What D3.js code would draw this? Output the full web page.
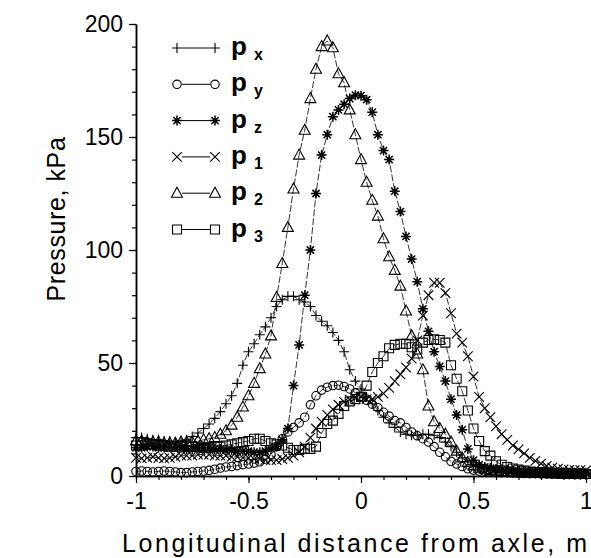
<!DOCTYPE html>
<html>
<head>
<meta charset="utf-8">
<script src="https://cdn.jsdelivr.net/npm/d3@7"></script>
<style>
  body { margin: 0; background: #fff; }
  svg { display: block; }
  text { font-family: "Liberation Sans", Arial, sans-serif; fill: #000; }
</style>
</head>
<body>
<div id="chart"></div>
<script>
// x positions (m), shared by all six series
const xs = [-1,-0.975,-0.95,-0.925,-0.9,-0.875,-0.85,-0.825,-0.8,-0.775,
  -0.75,-0.725,-0.7,-0.675,-0.65,-0.625,-0.6,-0.575,-0.55,-0.525,
  -0.5,-0.475,-0.45,-0.425,-0.4,-0.375,-0.35,-0.325,-0.3,-0.275,
  -0.25,-0.225,-0.2,-0.175,-0.15,-0.125,-0.1,-0.075,-0.05,-0.025,
  0,0.025,0.05,0.075,0.1,0.125,0.15,0.175,0.2,0.225,
  0.25,0.275,0.3,0.325,0.35,0.375,0.4,0.425,0.45,0.475,
  0.5,0.525,0.55,0.575,0.6,0.625,0.65,0.675,0.7,0.725,
  0.75,0.775,0.8,0.825,0.85,0.875,0.9,0.925,0.95,0.975,
  1];

// pressures, kPa
const px = [17,17,16.5,16,16,15.5,15.5,15,15.5,16,
  17.5,19,21,23,25.5,28.5,32,35.5,41,49,
  55,58.5,62.5,66,70,75,78,79.5,79.5,78,
  77,75,71,68.5,66.5,63.5,60,55,47,42,
  38.5,35,32,29,26,23.5,21.5,19.5,18.5,18,
  18,18.5,18.5,18,17,15,13,10.5,8,6.5,
  5,4,3.5,3,2.8,2.5,2.3,2,2,1.8,
  1.5,1.5,1.3,1.2,1,1,0.9,0.8,0.7,0.6,
  0.5];
const py = [2,2.2,2,1.8,2,2.2,2,1.8,1.5,1.5,
  1.8,2,2.2,2.5,3,3.5,4,4.2,4.6,5,
  5.3,5.7,6.3,7.5,9.5,13,16.5,19.5,21.5,23.5,
  26,31.5,35.5,38,39.3,40,40.2,39.6,38.5,36.8,
  35.2,33.5,31.8,30.2,28.2,26.5,24.5,23.5,21.5,19.5,
  17.8,16.5,15,13,10.5,8.5,6.5,5.3,4.2,3.2,
  2.6,2.2,2,1.8,1.6,1.5,1.4,1.3,1.2,1.1,
  1,1,0.9,0.9,0.8,0.8,0.7,0.7,0.6,0.6,
  0.6];
const pz = [12.5,12.5,13,13,12.5,12.5,13,13,12.5,12,
  12,12.5,12.5,12.5,12,12,11.5,11.5,11,11,
  11,10.5,10.5,11,12,13,16,21,40,58,
  80,100,125,142,151,159,162,164.5,167,168.5,
  168.3,166.5,161,151,144,140,126,117,106,96,
  86,74,64,55,48.5,42,34,27,20.5,12,
  7,5,4,3.5,3,2.8,2.6,2.4,2.2,2,
  1.9,1.8,1.7,1.6,1.5,1.4,1.3,1.2,1.1,1,
  1];
const p1 = [8,7.8,8,8.5,8,7.8,8,8.5,9,9,
  9,9.5,9.5,9.5,9,9,9,8.5,8.5,8,
  8,7.5,7.5,7,7,7,7.5,8,9,10.5,
  13,17,21,24,27,29.5,31.5,32.8,33.8,34.8,
  35,34,34,35,36.5,39,42,45,48,52,
  60,71,80,85.5,85.5,81,72,63,59,53,
  44,35,30,26,22,18.5,16,13.5,11.8,10,
  8,6.7,5.5,4.5,3.7,3.2,2.9,2.7,2.6,2.6,
  2.5];
const p2 = [15.5,15.5,15,15,15,14.5,14.5,14.5,15,15,
  15,15.5,16,16.5,17,18.5,20,22.5,26,30.5,
  35.5,41,47.5,54,62,79,94,110,127,142,
  153,167,180,190,192.5,189.5,178,174,162,151,
  140,130,122,115,105,97,91,84,73,62,
  54,47,31,24,21,18.5,15,11,8,6,
  4.5,3.5,3,2.5,2.2,2,1.8,1.6,1.5,1.4,
  1.3,1.2,1.1,1,1,0.9,0.9,0.8,0.8,0.7,
  0.7];
const p3 = [13.5,13.5,14,14,13.5,13.5,13,13,13.5,13.5,
  13,13,12.5,12.5,13,13,13.5,14,14.5,15,
  15.5,16.5,16.5,15.5,14.5,14,13.5,12.5,11.5,11.5,
  12,12,13,19,23,24.5,27.5,31,33,34,
  35,40,46,50,53,56.5,58,58.5,58.5,57,
  56,59,60.2,60.5,60.2,59,49,43,37.5,29,
  21,15.5,11,9,6.5,5,4,3.3,2.8,2.4,
  2,1.8,1.6,1.5,1.4,1.3,1.2,1.1,1,1,
  0.9];

const seriesNames = ["x", "y", "z", "1", "2", "3"];
const seriesMarks = ["plus", "circle", "star", "cross", "triangle", "square"];
const seriesValues = [px, py, pz, p1, p2, p3];

const xMajor = [-1, -0.5, 0, 0.5, 1];
const yMajor = [0, 50, 100, 150, 200];

const width = 591, height = 558;

const svg = d3.select("#chart").append("svg")
    .attr("width", width)
    .attr("height", height);

const x = d3.scaleLinear().domain([-1, 1]).range([136, 586]);
const y = d3.scaleLinear().domain([0, 200]).range([476, 24]);

// marker shapes, centred on 0,0
function markPath(kind) {
  if (kind == "plus") return "M-5,0H5M0,-5V5";
  if (kind == "cross") return "M-4.8,-4.8L4.8,4.8M-4.8,4.8L4.8,-4.8";
  if (kind == "triangle") return "M0,-6L5.5,4H-5.5Z";
  if (kind == "square") return "M-4.5,-4.5H4.5V4.5H-4.5Z";
  if (kind == "circle") return d3.symbol(d3.symbolCircle, 56)();
  // asterisk
  return "M-5,0H5M0,-5V5M-3.6,-3.6L3.6,3.6M-3.6,3.6L3.6,-3.6";
}

function drawMark(sel, kind) {
  sel.append("path")
      .attr("d", markPath(kind))
      .attr("fill", "none")
      .attr("stroke", "#000")
      .attr("stroke-width", kind == "star" ? 1.5 : 1.1);
  if (kind == "star") {
    sel.append("circle").attr("r", 2.2).attr("fill", "#000");
  }
}

// axes
const yAxisMinor = d3.axisLeft(y).tickValues(d3.range(0, 201, 10)).tickSize(4).tickFormat("").tickSizeOuter(0);
const yAxis = d3.axisLeft(y).tickValues(yMajor).tickSize(7).tickPadding(6).tickSizeOuter(0);
const xAxisMinor = d3.axisBottom(x).tickValues(d3.range(-10, 11).map(d => d / 10)).tickSize(4).tickFormat("").tickSizeOuter(0);
const xAxis = d3.axisBottom(x).tickValues(xMajor).tickSize(7).tickPadding(10).tickSizeOuter(0)
    .tickFormat(d => d == 0 ? "0" : String(d).replace("\u2212", "-"));

const gy = svg.append("g").attr("transform", `translate(${x(-1)},0)`);
gy.append("g").call(yAxisMinor);
gy.append("g").call(yAxis);
const gx = svg.append("g").attr("transform", `translate(0,${y(0)})`);
gx.append("g").call(xAxisMinor);
gx.append("g").call(xAxis);

svg.selectAll(".domain").attr("stroke", "#000").attr("stroke-width", 1.5);
svg.selectAll(".tick line").attr("stroke", "#000").attr("stroke-width", 1.2);
svg.selectAll(".tick text")
    .style("font-size", "23px")
    .style("font-family", "'Liberation Sans', Arial, sans-serif")
    .attr("fill", "#000");

// axis titles
svg.append("text")
    .attr("x", 122)
    .attr("y", 552)
    .style("font-size", "25px")
    .style("letter-spacing", "2.6px")
    .text("Longitudinal distance from axle, m");

svg.append("text")
    .attr("transform", "translate(65,219) rotate(-90)")
    .attr("text-anchor", "middle")
    .style("font-size", "25px")
    .style("letter-spacing", "0.6px")
    .text("Pressure, kPa");

// series
const line = d3.line()
    .x(d => x(d[0]))
    .y(d => y(d[1]));

seriesValues.forEach(function(vals, i) {
  const pts = xs.map((xv, j) => [xv, vals[j]]);
  const g = svg.append("g").attr("class", "series");
  g.append("path")
      .datum(pts)
      .attr("d", line)
      .attr("fill", "none")
      .attr("stroke", "#000")
      .attr("stroke-width", 0.8)
      .attr("stroke-dasharray", "7,2");
  g.selectAll("g.mark")
      .data(pts)
      .join("g")
      .attr("class", "mark")
      .attr("transform", d => `translate(${x(d[0])},${y(d[1])})`)
      .each(function() { drawMark(d3.select(this), seriesMarks[i]); });
});

// legend
const legend = svg.append("g");
seriesNames.forEach(function(name, i) {
  const ly = 48 + i * 36.3;
  const row = legend.append("g").attr("transform", `translate(0,${ly})`);
  row.append("line")
      .attr("x1", 182).attr("x2", 210)
      .attr("stroke", "#000").attr("stroke-width", 1);
  drawMark(row.append("g").attr("transform", "translate(177,0)"), seriesMarks[i]);
  drawMark(row.append("g").attr("transform", "translate(215,0)"), seriesMarks[i]);
  const t = row.append("text")
      .attr("x", 231)
      .attr("y", 7)
      .style("font-size", "26px")
      .style("font-weight", "bold")
      .text("p");
  t.append("tspan")
      .attr("dx", 7)
      .attr("dy", 5)
      .style("font-size", "16px")
      .text(name);
});
</script>
</body>
</html>
